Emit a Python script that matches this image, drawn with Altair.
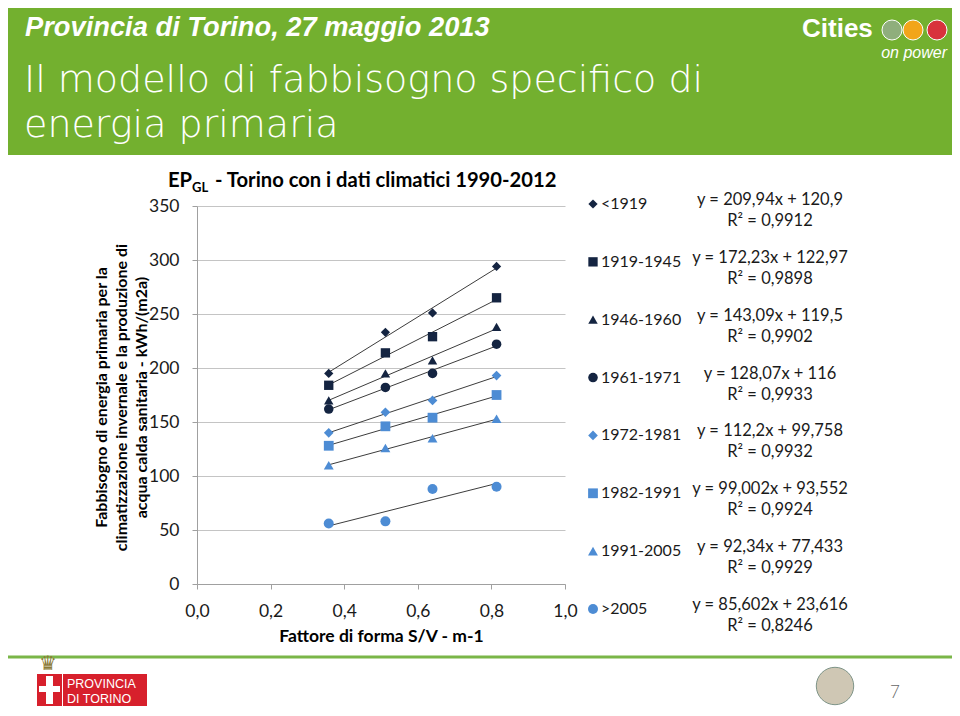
import altair as alt
import pandas as pd

# ---------------- data ----------------
series = ["<1919", "1919-1945", "1946-1960", "1961-1971",
          "1972-1981", "1982-1991", "1991-2005", ">2005"]
sv_factor = [0.358, 0.512, 0.640, 0.814]
ep_lt1919 = [195, 233, 251, 294]
ep_1919_1945 = [184, 214, 229, 265]
ep_1946_1960 = [170, 195, 207, 238]
ep_1961_1971 = [162, 182, 195, 222]
ep_1972_1981 = [140, 159, 170, 193]
ep_1982_1991 = [128, 146, 154, 175]
ep_1991_2005 = [110, 126, 135, 153]
ep_gt2005 = [56, 58, 88, 90]
equations = ["y = 209,94x + 120,9", "y = 172,23x + 122,97", "y = 143,09x + 119,5",
             "y = 128,07x + 116", "y = 112,2x + 99,758", "y = 99,002x + 93,552",
             "y = 92,34x + 77,433", "y = 85,602x + 23,616"]
r_squared = ["R² = 0,9912", "R² = 0,9898", "R² = 0,9902", "R² = 0,9933",
             "R² = 0,9932", "R² = 0,9924", "R² = 0,9929", "R² = 0,8246"]
y_ticks = [0, 50, 100, 150, 200, 250, 300, 350]
x_ticks = [0.0, 0.2, 0.4, 0.6, 0.8, 1.0]

# ---------------- styles ----------------
DARK = "#142441"
LIGHT = "#4D8CD4"
shapes = ["diamond", "square", "triangle-up", "circle"] * 2
colors = [DARK] * 4 + [LIGHT] * 4
sizes = [85, 100, 115, 110, 60, 95, 115, 110]
legend_sizes = [60, 90, 100, 95, 55, 90, 100, 95]
GREEN = "#73B02F"
FONT = "Lato"

all_ep = [ep_lt1919, ep_1919_1945, ep_1946_1960, ep_1961_1971,
          ep_1972_1981, ep_1982_1991, ep_1991_2005, ep_gt2005]
rows = []
for s, vals in zip(series, all_ep):
    for xv, yv in zip(sv_factor, vals):
        rows.append({"series": s, "sv": xv, "ep": yv})
df = pd.DataFrame(rows)
legend_df = pd.DataFrame({"series": series, "eq": equations, "r2": r_squared})
one = pd.DataFrame({"k": [0]})

shape_enc = alt.Shape("series:N", scale=alt.Scale(domain=series, range=shapes), legend=None)
color_enc = alt.Color("series:N", scale=alt.Scale(domain=series, range=colors), legend=None)
size_enc = alt.Size("series:N", scale=alt.Scale(domain=series, range=sizes), legend=None)

xscale = alt.Scale(domain=[0, 1])
yscale = alt.Scale(domain=[0, 350])
label_expr = "replace(format(datum.value, '.1f'), '.', ',')"

x_axis = alt.Axis(values=x_ticks, labelExpr=label_expr, grid=False, labelFlush=False,
                  title="Fattore di forma S/V - m-1", titleFontSize=17.5,
                  titleFontWeight="bold", titlePadding=8, labelPadding=13, tickSize=5)
y_axis = alt.Axis(values=y_ticks, grid=True, labelPadding=13, tickSize=5, labelFlush=False,
                  title=["Fabbisogno di energia primaria per la",
                         "climatizzazione invernale e la produzione di",
                         "acqua calda sanitaria - kWh/(m2a)"],
                  titleFontSize=16, titleFontWeight="bold", titleLineHeight=20,
                  titleAngle=270, titleAlign="center", titleBaseline="bottom",
                  titleX=-88, titleY=191)

trend = alt.Chart(df).transform_regression(
    "sv", "ep", groupby=["series"]
).mark_line(color="#3C3C3C", strokeWidth=1).encode(
    x=alt.X("sv:Q", scale=xscale, axis=x_axis),
    y=alt.Y("ep:Q", scale=yscale, axis=None),
    detail="series:N",
)

points = alt.Chart(df).mark_point(filled=True, opacity=1).encode(
    x=alt.X("sv:Q", scale=xscale, axis=x_axis),
    y=alt.Y("ep:Q", scale=yscale, axis=y_axis),
    shape=shape_enc, color=color_enc, size=size_enc,
)

leg_y = alt.Y("series:N", scale=alt.Scale(domain=series, range=[-2, 403], padding=0), axis=None)

leg_pts = alt.Chart(legend_df).mark_point(filled=True, opacity=1).encode(
    x=alt.value(396), y=leg_y, shape=shape_enc, color=color_enc,
    size=alt.Size("series:N", scale=alt.Scale(domain=series, range=legend_sizes), legend=None),
)
leg_lbl = alt.Chart(legend_df).mark_text(align="left", baseline="middle", font=FONT,
                                         fontSize=16, color="#1A1A1A").encode(
    x=alt.value(404), y=leg_y, text="series:N")
leg_eq = alt.Chart(legend_df).mark_text(align="center", baseline="middle", font=FONT,
                                        fontSize=16.5, color="#1A1A1A", dy=-4).encode(
    x=alt.value(573), y=leg_y, text="eq:N")
leg_r2 = alt.Chart(legend_df).mark_text(align="center", baseline="middle", font=FONT,
                                        fontSize=16.5, color="#1A1A1A", dy=17).encode(
    x=alt.value(573), y=leg_y, text="r2:N")


def rect(x1, x2, y1, y2, color):
    return alt.Chart(one).mark_rect(color=color).encode(
        x=alt.value(x1), x2=alt.value(x2), y=alt.value(y1), y2=alt.value(y2))


def text(t, x, y, **kw):
    kw.setdefault("align", "left")
    kw.setdefault("baseline", "alphabetic")
    return alt.Chart(one).mark_text(text=t, **kw).encode(x=alt.value(x), y=alt.value(y))


def dot(x, y, size, color, shape="circle", stroke="white"):
    return alt.Chart(one).mark_point(filled=True, opacity=1, shape=shape, size=size,
                                     color=color, stroke=stroke, strokeWidth=1).encode(
        x=alt.value(x), y=alt.value(y))


header = [
    rect(-200, 759, -210, -51, GREEN),
    text("Provincia di Torino, 27 maggio 2013", -172, -170, font="Liberation Sans",
         fontSize=27.3, fontWeight="bold", fontStyle="italic", color="white"),
    text(["Il modello di fabbisogno specifico di", "energia primaria"], -173, -114,
         font="DejaVu Sans", fontSize=38, fontWeight=200, lineHeight=45, color="white"),
    text("Cities", 605, -169, font="Liberation Sans", fontSize=26, fontWeight="bold", color="white"),
    dot(695, -176, 400, "#8FAE7C"),
    dot(716, -176, 400, "#F2A51A"),
    dot(740, -176, 400, "#D8323C"),
    text("on power", 750, -148, align="right", font="Liberation Sans", fontSize=16,
         fontStyle="italic", color="white"),
]

title = [
    text("EP", -29, -19, font=FONT, fontSize=20.2, fontWeight="bold", color="black"),
    text("GL", -5, -14, font=FONT, fontSize=13, fontWeight="bold", color="black"),
    text("- Torino con i dati climatici 1990-2012", 18, -19, font=FONT, fontSize=20.2,
         fontWeight="bold", color="black"),
]

footer = [
    alt.Chart(one).mark_rule(color="#7AB648", strokeWidth=3).encode(
        x=alt.value(-200), x2=alt.value(770), y=alt.value(451)),
    text("♛", -149, 464, align="center", font="DejaVu Sans", fontSize=20, color="#8C7A36"),
    rect(-160, -135, 468, 500, "#D7202C"),
    rect(-151, -144, 470, 498, "white"),
    rect(-158, -137, 480, 486, "white"),
    rect(-134, -50, 468, 500, "#D7202C"),
    text("PROVINCIA", -130, 482, font="Liberation Sans", fontSize=12.5, color="white"),
    text("DI TORINO", -130, 497, font="Liberation Sans", fontSize=12.5, color="white"),
    dot(638, 480, 1400, "#CFC7B4", stroke="#7E9488"),
    text("7", 698, 492, align="center", font=FONT, fontSize=17, fontWeight=300, color="#666666"),
]

chart = alt.layer(
    *header, *title, trend, points, leg_pts, leg_lbl, leg_eq, leg_r2, *footer
).resolve_scale(
    y="independent", shape="shared", color="shared"
).properties(
    width=368, height=378,
    autosize=alt.AutoSizeParams(type="none"),
    padding={"left": 189, "top": 198, "right": 387, "bottom": 122},
    background="white",
).configure_view(stroke=None).configure_axis(
    labelFont=FONT, labelFontSize=17.5, labelColor="#1A1A1A",
    titleFont=FONT, titleColor="black",
    domainColor="#A0A0A0", tickColor="#A0A0A0", gridColor="#C4C4C4",
)

chart.save("out.html", embed_options={"renderer": "svg", "actions": False})
